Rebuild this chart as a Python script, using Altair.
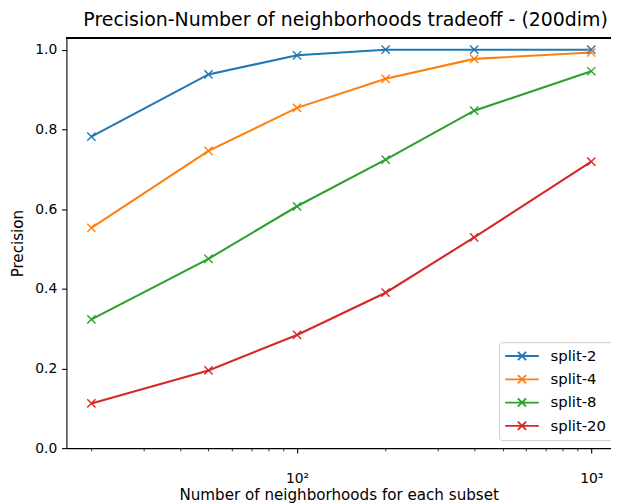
import altair as alt
import pandas as pd

neighbors = [20, 50, 100, 200, 400, 1000]
series_names = ["split-2", "split-4", "split-8", "split-20"]
split_2 = [0.782, 0.938, 0.986, 1.0, 1.0, 1.0]
split_4 = [0.553, 0.746, 0.854, 0.927, 0.977, 0.993]
split_8 = [0.323, 0.475, 0.607, 0.724, 0.847, 0.946]
split_20 = [0.112, 0.195, 0.284, 0.390, 0.529, 0.719]
colors = ["#1f77b4", "#ff7f0e", "#2ca02c", "#d62728"]
major_ticks = [100, 1000]
minor_ticks = [20, 30, 40, 50, 60, 70, 80, 90, 200, 300, 400, 500, 600, 700, 800, 900]
y_ticks = [0.0, 0.2, 0.4, 0.6, 0.8, 1.0]

rows = []
for order, (name, vals) in enumerate(zip(series_names, [split_2, split_4, split_8, split_20])):
    for xv, yv in zip(neighbors, vals):
        rows.append({"n": xv, "precision": yv, "series": name, "order": order})
df = pd.DataFrame(rows)

FONT = "DejaVu Sans"
xscale = alt.Scale(type="log", domain=[16.45, 1167], nice=False)
yscale = alt.Scale(domain=[0, 1.029], nice=False, zero=False)
color_scale = alt.Scale(domain=series_names, range=colors)
color = alt.Color(
    "series:N",
    scale=color_scale,
    sort=series_names,
    legend=alt.Legend(
        title=None,
        orient="none",
        legendX=437,
        legendY=307,
        symbolType="M-1.129,0L3.729,0M0.707,-0.593L1.893,0.593M0.707,0.593L1.893,-0.593",
        symbolSize=196,
        symbolStrokeWidth=1.8,
        symbolFillColor="transparent",
        labelFont=FONT,
        labelFontSize=15,
        labelColor="black",
        labelOffset=29.9,
        rowPadding=7.5,
        padding=6,
        strokeColor="#cccccc",
        fillColor="white",
        cornerRadius=3,
    ),
)

xmajor = alt.Axis(
    values=major_ticks,
    orient="bottom",
    labelExpr="datum.value == 100 ? '10²' : '10³'",
    title="Number of neighborhoods for each subset",
    titleFont=FONT, titleFontSize=15.3, titleFontWeight="normal", titleColor="black",
    titlePadding=2,
    labelFont=FONT, labelFontSize=14, labelColor="black", labelPadding=19,
    tickSize=4.9, tickColor="black", tickWidth=1.1,
    domainColor="black", domainWidth=1.1, grid=False,
)
xminor = alt.Axis(
    values=minor_ticks, orient="bottom", labels=False, title=None, domain=False,
    tickSize=2.8, tickColor="black", tickWidth=0.8, grid=False,
)
yaxis = alt.Axis(
    values=y_ticks, format=".1f", title="Precision",
    titleFont=FONT, titleFontSize=15.3, titleFontWeight="normal", titleColor="black",
    titlePadding=9,
    labelFont=FONT, labelFontSize=14, labelColor="black", labelPadding=4.9,
    tickSize=4.9, tickColor="black", tickWidth=1.1,
    domainColor="black", domainWidth=1.1, grid=False,
)

lines = alt.Chart(df).mark_line(strokeWidth=2.1).encode(
    x=alt.X("n:Q", scale=xscale, axis=xmajor),
    y=alt.Y("precision:Q", scale=yscale, axis=yaxis),
    color=color,
    detail="series:N",
    order=alt.Order("n:Q"),
)
points = alt.Chart(df).mark_point(
    shape="M-1,-1L1,1M-1,1L1,-1", size=69, filled=False, strokeWidth=1.4, opacity=1
).encode(
    x=alt.X("n:Q", scale=xscale, axis=xminor),
    y=alt.Y("precision:Q", scale=yscale, axis=yaxis),
    color=alt.Color("series:N", scale=color_scale, legend=None),
)
topline = alt.Chart(df).mark_rule(color="black", strokeWidth=1.1).encode(
    x=alt.value(0), x2=alt.value(560), y=alt.value(0)
)

chart = (
    alt.layer(lines, points, topline)
    .resolve_axis(x="independent")
    .properties(
        width=550,
        height=414,
        padding={"left": 59, "top": 28, "right": 0, "bottom": 54},
        autosize=alt.AutoSizeParams(type="none"),
        title=alt.Title(
            "Precision-Number of neighborhoods tradeoff - (200dim)",
            font=FONT, fontSize=19.1, fontWeight="normal", color="black",
            anchor="middle", baseline="alphabetic", offset=11, dx=7, dy=18,
        ),
    )
    .configure_view(stroke=None)
)
chart.save("out.html", embed_options={"renderer": "svg", "actions": False})
